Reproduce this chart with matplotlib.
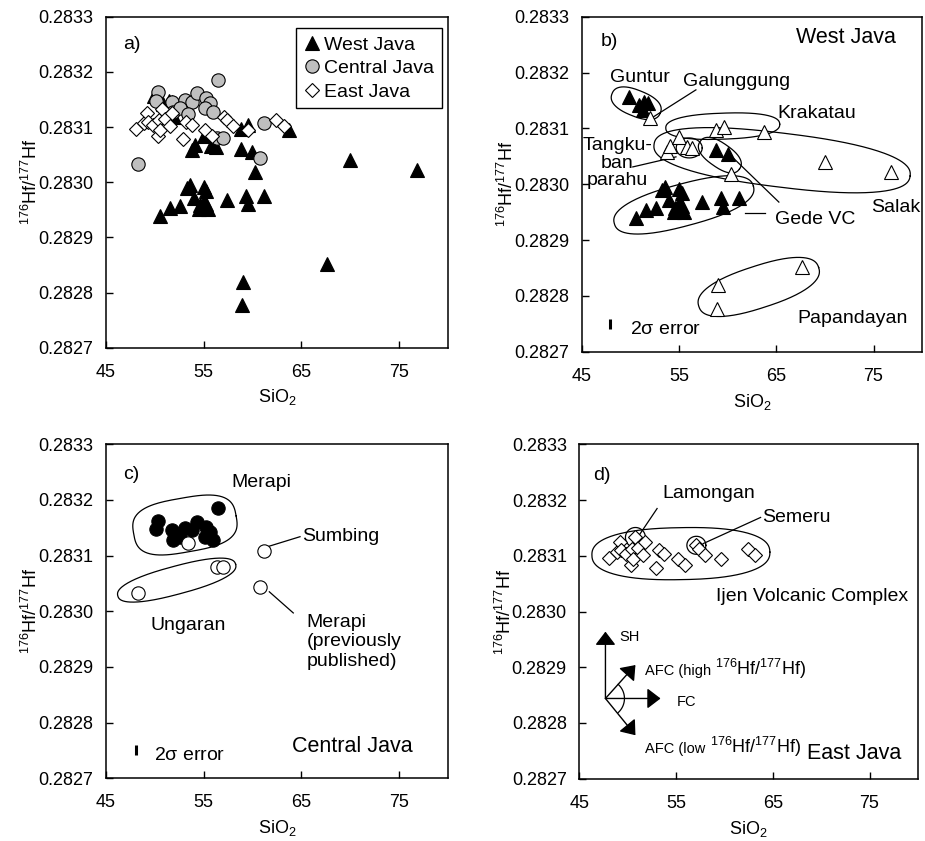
import numpy as np
import matplotlib
matplotlib.use('Agg')
import matplotlib.pyplot as plt

plt.rcParams['font.family'] = ['Liberation Sans', 'DejaVu Sans']
plt.rcParams['mathtext.default'] = 'regular'

# --- West Java (176Hf/177Hf vs SiO2) ---
guntur_x = [49.9, 50.9, 51.45, 51.8, 51.3]
guntur_y = [0.283157, 0.283142, 0.283148, 0.283145, 0.283133]
wj_low_x = [50.6, 51.6, 52.6, 53.3, 53.6, 54.0, 54.5, 55.0, 55.3, 55.0, 55.5, 55.3, 54.6, 57.4, 59.3, 59.5, 61.2]
wj_low_y = [0.282939, 0.282954, 0.282957, 0.282989, 0.282995, 0.282971, 0.282951, 0.282992, 0.282984,
            0.282966, 0.282951, 0.282961, 0.282958, 0.282968, 0.282975, 0.282960, 0.282975]
gede_x = [58.8, 60.0]
gede_y = [0.283061, 0.283055]
galunggung_x = [52.0]
galunggung_y = [0.283118]
tangkuban_x = [53.8, 54.1, 55.0, 55.8, 56.3]
tangkuban_y = [0.283058, 0.283068, 0.283084, 0.283066, 0.283064]
krakatau_x = [58.8, 59.6, 63.7]
krakatau_y = [0.283097, 0.283103, 0.283094]
gede_open_x = [60.3]
gede_open_y = [0.283019]
salak_x = [70.0, 76.8]
salak_y = [0.283040, 0.283022]
papandayan_x = [59.0, 58.9, 67.65]
papandayan_y = [0.282819, 0.282777, 0.282851]

# --- Central Java ---
merapi_x = [56.5, 50.3, 50.1, 51.75, 51.9, 53.1, 53.8, 54.3, 55.3, 55.7, 55.15, 56.0, 52.6]
merapi_y = [0.283186, 0.283163, 0.283147, 0.283146, 0.283128, 0.283149, 0.283146,
            0.283161, 0.283152, 0.283143, 0.283134, 0.283128, 0.283134]
cj_open_x = [53.45, 56.35, 57.0, 48.3, 61.2, 60.8]   # Merapi, Ungaran x3, Sumbing, Merapi (published)
cj_open_y = [0.283123, 0.283080, 0.283080, 0.283033, 0.283108, 0.283043]

# --- East Java ---
east_x = [48.1, 48.9, 49.2, 49.3, 49.8, 50.3, 50.4, 50.6, 50.8, 51.1, 51.6, 51.8,
          52.9, 53.2, 53.8, 55.2, 55.9, 57.1, 57.4, 58.0, 59.6, 62.4, 63.2]
east_y = [0.283097, 0.283107, 0.283125, 0.283110, 0.283104, 0.283083, 0.283112, 0.283095,
          0.283133, 0.283115, 0.283101, 0.283125, 0.283078, 0.283110, 0.283104, 0.283095,
          0.283083, 0.283119, 0.283113, 0.283101, 0.283095, 0.283112, 0.283101]

xticks = [45, 55, 65, 75]
yticks = [0.2827, 0.2828, 0.2829, 0.2830, 0.2831, 0.2832, 0.2833]

fig = plt.figure(figsize=(9.25, 8.41), dpi=100)
ax_a = fig.add_axes([0.1143, 0.5866, 0.370, 0.3935])
ax_b = fig.add_axes([0.6289, 0.5818, 0.368, 0.3983])
ax_c = fig.add_axes([0.1143, 0.0746, 0.370, 0.3971])
ax_d = fig.add_axes([0.6263, 0.0741, 0.366, 0.3974])


def style(ax):
    ax.set_xlim(45, 80)
    ax.set_ylim(0.2827, 0.2833)
    ax.set_xticks(xticks)
    ax.set_yticks(yticks)
    ax.set_yticklabels([f'{v:.4f}' for v in yticks])
    ax.tick_params(direction='in', length=5, width=1, labelsize=13)
    ax.tick_params(axis='x', pad=11.5)
    ax.tick_params(axis='y', pad=9)
    for s in ax.spines.values():
        s.set_linewidth(1.1)
    ax.set_xlabel('SiO$_2$', fontsize=13)
    ax.set_ylabel(r'$^{176}$Hf/$^{177}$Hf', fontsize=13)
    ax.xaxis.set_label_coords(0.5, -0.12)
    ax.yaxis.set_label_coords(-0.19, 0.5)


def outline(ax, cx, cy, a, b, ang, n=2.4):
    # rounded outline around a group; a, b are half sizes in pixels
    x0, y0 = ax.transData.transform((cx, cy))
    t = np.linspace(0, 2 * np.pi, 300)
    c, s = np.cos(t), np.sin(t)
    u = a * np.sign(c) * np.abs(c) ** (2 / n)
    v = b * np.sign(s) * np.abs(s) ** (2 / n)
    r = np.radians(ang)
    px = x0 + u * np.cos(r) - v * np.sin(r)
    py = y0 + u * np.sin(r) + v * np.cos(r)
    pts = ax.transData.inverted().transform(np.column_stack([px, py]))
    ax.plot(pts[:, 0], pts[:, 1], color='black', lw=0.9, zorder=2)


def leader(ax, p0, p1):
    ax.plot([p0[0], p1[0]], [p0[1], p1[1]], color='black', lw=0.9, zorder=2)


def err_bar(ax, x, y):
    ax.plot([x, x], [y - 0.000009, y + 0.000009], color='black', lw=2.2, solid_capstyle='butt')


tri = dict(marker='^', ms=10.5, linestyle='none', mec='black', mew=0.8)
circ = dict(marker='o', ms=9.6, linestyle='none', mec='black', mew=0.8)
diam = dict(marker='D', ms=7.2, linestyle='none', mec='black', mew=0.8)

# =========================================================
# a) all of Java
# =========================================================
style(ax_a)
wj_all_x = (guntur_x + wj_low_x + gede_x + galunggung_x + tangkuban_x + krakatau_x
            + gede_open_x + salak_x + papandayan_x)
wj_all_y = (guntur_y + wj_low_y + gede_y + galunggung_y + tangkuban_y + krakatau_y
            + gede_open_y + salak_y + papandayan_y)
h1, = ax_a.plot(wj_all_x, wj_all_y, mfc='black', zorder=3, **tri)
h2, = ax_a.plot(merapi_x + cj_open_x, merapi_y + cj_open_y, mfc='#bfbfbf', zorder=4, **circ)
h3, = ax_a.plot(east_x, east_y, mfc='white', zorder=5, **diam)
leg = ax_a.legend([h1, h2, h3], ['West Java', 'Central Java', 'East Java'], loc='upper right',
                  bbox_to_anchor=(0.982, 0.965), borderaxespad=0, fontsize=14, handlelength=0.9,
                  handletextpad=0.15, labelspacing=0.3, fancybox=False, framealpha=1,
                  edgecolor='black', borderpad=0.4)
leg.get_frame().set_linewidth(1.0)
ax_a.text(46.8, 0.283249, 'a)', fontsize=14, va='center')

# =========================================================
# b) West Java
# =========================================================
style(ax_b)
ax_b.plot(guntur_x + wj_low_x + gede_x, guntur_y + wj_low_y + gede_y, mfc='black', zorder=3, **tri)
ax_b.plot(galunggung_x + tangkuban_x + krakatau_x + gede_open_x + salak_x + papandayan_x,
          galunggung_y + tangkuban_y + krakatau_y + gede_open_y + salak_y + papandayan_y,
          mfc='white', zorder=3, **tri)
outline(ax_b, 50.6, 0.283145, 26, 13, -22)
outline(ax_b, 59.5, 0.283104, 57, 13, 2)
outline(ax_b, 65.6, 0.283043, 129, 27, -7)
outline(ax_b, 56.05, 0.283065, 13, 10, 0, n=2)
outline(ax_b, 59.2, 0.283052, 24, 12, -35)
outline(ax_b, 55.5, 0.282963, 72, 21, 15)
outline(ax_b, 63.2, 0.282816, 63, 21, 18)
leader(ax_b, (56.74, 0.283169), (52.13, 0.283118))
leader(ax_b, (50.25, 0.283031), (54.69, 0.283049))
leader(ax_b, (65.27, 0.282968), (60.46, 0.283049))
leader(ax_b, (61.79, 0.282949), (63.83, 0.282949))
err_bar(ax_b, 47.9, 0.282749)
ax_b.text(46.94, 0.283255, 'b)', fontsize=14, va='center')
ax_b.text(67.0, 0.283262, 'West Java', fontsize=15.5, va='center')
ax_b.text(47.94, 0.283191, 'Guntur', fontsize=14, va='center')
ax_b.text(55.44, 0.283184, 'Galunggung', fontsize=14, va='center')
ax_b.text(65.16, 0.283126, 'Krakatau', fontsize=14, va='center')
ax_b.text(48.68, 0.283038, 'Tangku-\nban\nparahu', fontsize=14, va='center', ha='center',
          linespacing=1.05)
ax_b.text(64.86, 0.282936, 'Gede VC', fontsize=14, va='center')
ax_b.text(74.8, 0.282958, 'Salak', fontsize=14, va='center')
ax_b.text(67.2, 0.282760, 'Papandayan', fontsize=14, va='center')
ax_b.text(50.0, 0.282739, r'2$\sigma$ error', fontsize=14, va='center')

# =========================================================
# c) Central Java
# =========================================================
style(ax_c)
ax_c.plot(merapi_x, merapi_y, mfc='black', zorder=3, **circ)
ax_c.plot(cj_open_x, cj_open_y, mfc='white', zorder=3, **circ)
outline(ax_c, 53.1, 0.283155, 52, 27, 10, n=3)
outline(ax_c, 52.26, 0.283056, 61, 14, 15)
leader(ax_c, (64.87, 0.283134), (61.73, 0.283117))
leader(ax_c, (61.73, 0.283035), (64.18, 0.282997))
err_bar(ax_c, 48.07, 0.282750)
ax_c.text(46.74, 0.283245, 'c)', fontsize=14, va='center')
ax_c.text(57.9, 0.283231, 'Merapi', fontsize=14, va='center')
ax_c.text(65.04, 0.283135, 'Sumbing', fontsize=14, va='center')
ax_c.text(49.53, 0.282975, 'Ungaran', fontsize=14, va='center')
ax_c.text(65.55, 0.282996, 'Merapi\n(previously\npublished)', fontsize=14, va='top')
ax_c.text(64.05, 0.282757, 'Central Java', fontsize=15.5, va='center')
ax_c.text(49.97, 0.282741, r'2$\sigma$ error', fontsize=14, va='center')

# =========================================================
# d) East Java
# =========================================================
style(ax_d)
ax_d.plot(east_x, east_y, mfc='white', zorder=3, **diam)
outline(ax_d, 55.5, 0.283104, 89, 26, 1)
outline(ax_d, 50.8, 0.283133, 10, 10, 0, n=2)
outline(ax_d, 57.1, 0.283119, 9.5, 9, 0, n=2)
leader(ax_d, (53.04, 0.283185), (51.18, 0.283137))
leader(ax_d, (63.74, 0.283169), (57.8, 0.283122))
ax_d.text(46.43, 0.283245, 'd)', fontsize=14, va='center')
ax_d.text(53.55, 0.283212, 'Lamongan', fontsize=14, va='center')
ax_d.text(63.9, 0.283169, 'Semeru', fontsize=14, va='center')
ax_d.text(59.15, 0.283027, 'Ijen Volcanic Complex', fontsize=14, va='center')
ax_d.text(68.5, 0.282746, 'East Java', fontsize=15.5, va='center')

# process vectors
origin = (47.7, 0.282844)
tips = [(47.7, 0.282964), (53.4, 0.282844), (50.8, 0.282904), (50.8, 0.282778)]
for tip in tips:
    ax_d.annotate('', xy=tip, xytext=origin,
                  arrowprops=dict(arrowstyle='-|>,head_length=0.55,head_width=0.42',
                                  mutation_scale=15, color='black', lw=1.0,
                                  shrinkA=0, shrinkB=0))
x0, y0 = ax_d.transData.transform(origin)
t = np.radians(np.linspace(-48, 48, 60))
arc = ax_d.transData.inverted().transform(np.column_stack([x0 + 19 * np.cos(t), y0 + 19 * np.sin(t)]))
ax_d.plot(arc[:, 0], arc[:, 1], color='black', lw=0.9)

ax_d.text(49.14, 0.282955, 'SH', fontsize=10.5, va='center')
ax_d.text(55.05, 0.282838, 'FC', fontsize=10.5, va='center')

renderer = fig.canvas.get_renderer()
for y, lab in [(0.282886, 'AFC (high '), (0.282747, 'AFC (low ')]:
    t1 = ax_d.text(51.79, y, lab, fontsize=10.5, va='baseline')
    bb = t1.get_window_extent(renderer=renderer)
    xr = ax_d.transData.inverted().transform((bb.x1, 0))[0]
    ax_d.text(xr, y, r'$^{176}$Hf/$^{177}$Hf)', fontsize=13, va='baseline')

fig.savefig('out.png', dpi=100)
